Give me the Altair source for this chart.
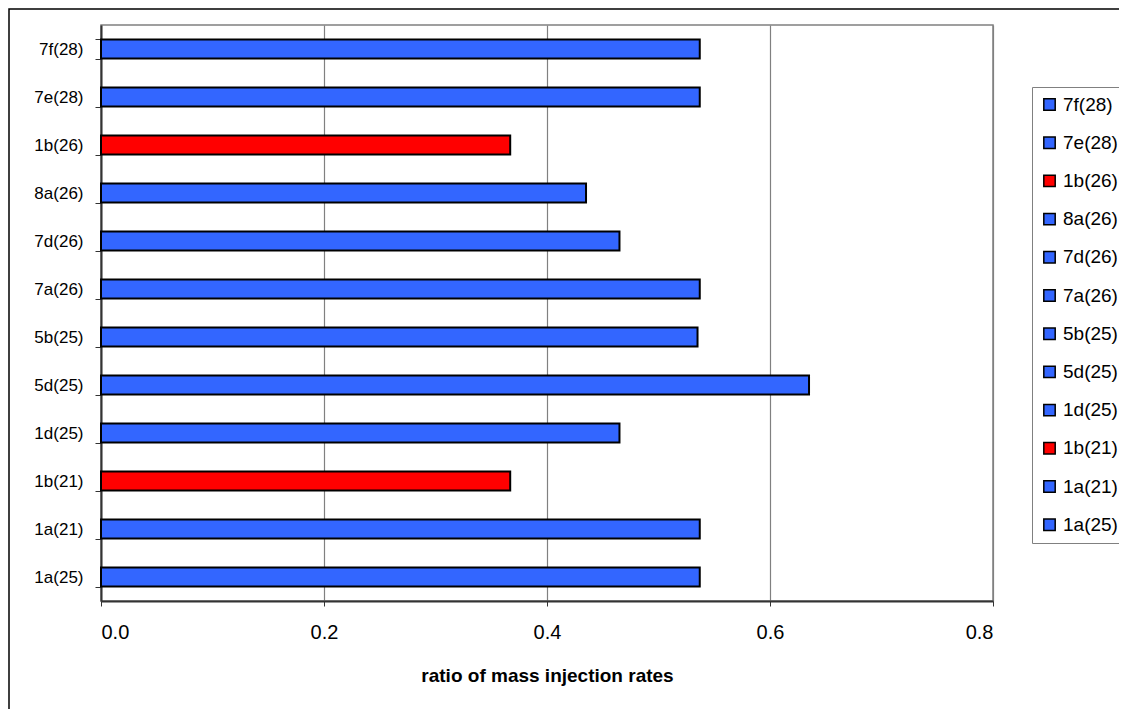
import altair as alt
import pandas as pd

# top-to-bottom order
names = ["7f(28)", "7e(28)", "1b(26)", "8a(26)", "7d(26)", "7a(26)",
         "5b(25)", "5d(25)", "1d(25)", "1b(21)", "1a(21)", "1a(25)"]
values = [0.537, 0.537, 0.367, 0.435, 0.465, 0.537,
          0.535, 0.635, 0.465, 0.367, 0.537, 0.537]
colors = ["#3366FF", "#3366FF", "#FF0000", "#3366FF", "#3366FF", "#3366FF",
          "#3366FF", "#3366FF", "#3366FF", "#FF0000", "#3366FF", "#3366FF"]
x_ticks = [0.0, 0.2, 0.4, 0.6, 0.8]

df = pd.DataFrame({"name": names, "value": values})
FONT = "Liberation Sans"

bars = alt.Chart(df).mark_bar(stroke="black", strokeWidth=2).encode(
    y=alt.Y("name:N", sort=names,
            scale=alt.Scale(paddingInner=0.6, paddingOuter=0.3),
            axis=alt.Axis(title=None, tickBand="extent", tickSize=6,
                          tickColor="#333333", domainColor="#333333",
                          domainWidth=2, labelFontSize=17, labelFont=FONT,
                          labelColor="black", labelPadding=12, grid=False)),
    x=alt.X("value:Q", scale=alt.Scale(domain=[0, 0.8], nice=False),
            axis=alt.Axis(title="ratio of mass injection rates", values=x_ticks,
                          format=".1f", tickSize=5, tickColor="#333333",
                          domainColor="#333333", domainWidth=2,
                          grid=True, gridColor="#808080", gridWidth=1.2,
                          labelFontSize=20, labelFont=FONT, labelColor="black",
                          labelPadding=16, titleFont=FONT, titleFontSize=19,
                          titleFontWeight="bold", titleColor="black",
                          titlePadding=24)),
    color=alt.Color("name:N",
                    scale=alt.Scale(domain=names, range=colors),
                    legend=alt.Legend(title=None, orient="none", legendX=931,
                                      legendY=62, symbolType="square",
                                      symbolSize=130, symbolStrokeColor="black",
                                      symbolStrokeWidth=1.5, labelFontSize=19,
                                      labelFont=FONT, labelColor="black",
                                      rowPadding=18.2, labelOffset=4,
                                      padding=8, strokeColor="#808080",
                                      fillColor="white")),
)

frame = alt.Chart(pd.DataFrame({"a": [0]})).mark_rect(
    filled=False, stroke="black", strokeWidth=1.5
).encode(x=alt.value(-92), y=alt.value(-16), x2=alt.value(1040), y2=alt.value(710))

chart = alt.layer(bars, frame).properties(
    width=892, height=576,
    autosize=alt.AutoSizeParams(type="none"),
    padding={"left": 93, "top": 17, "right": 126, "bottom": 108},
).configure_view(stroke="#808080", strokeWidth=1.5)

chart.save("out.html", embed_options={"renderer": "svg", "actions": False})
